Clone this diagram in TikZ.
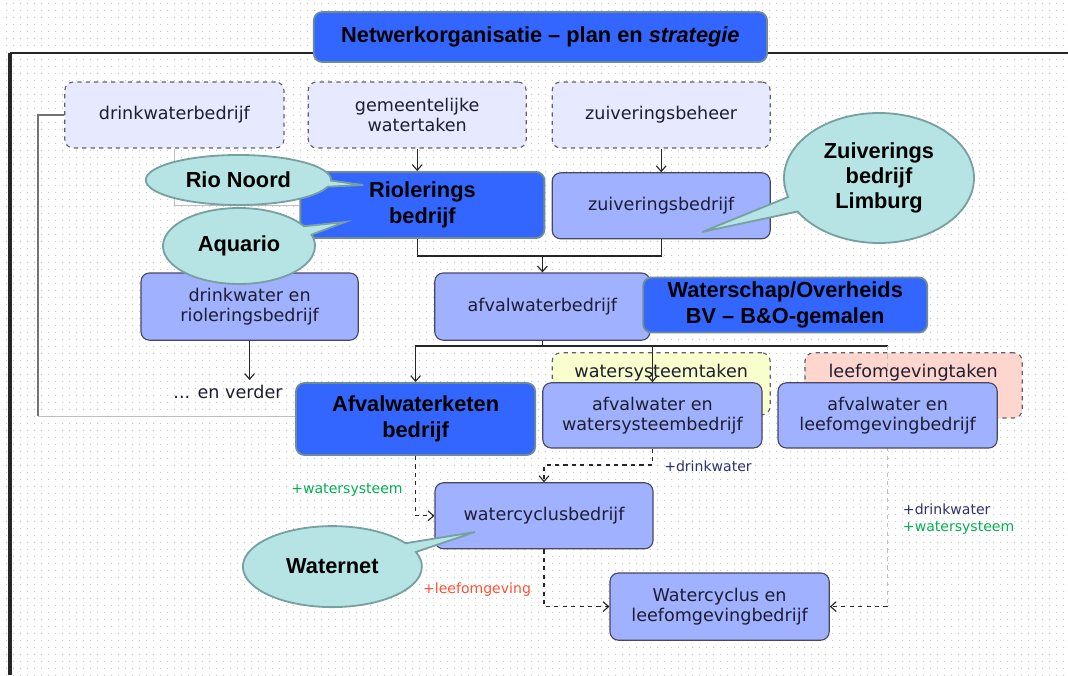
\documentclass[tikz,border=0pt]{standalone}
\usepackage{fontspec}
\setmainfont{DejaVu Sans}
\newfontfamily\headfont{Liberation Sans}
\usepackage{xcolor}
\usepackage{tikz}
\usetikzlibrary{positioning, shapes, shapes.callouts, arrows.meta, calc, patterns.meta}

\definecolor{keyblue}{RGB}{51,102,255}
\definecolor{keyedge}{RGB}{110,140,150}
\definecolor{orgfill}{RGB}{160,178,255}
\definecolor{orgedge}{RGB}{70,70,95}
\definecolor{taskfill}{RGB}{230,233,255}
\definecolor{taskedge}{RGB}{95,95,105}
\definecolor{yellowfill}{RGB}{248,255,205}
\definecolor{pinkfill}{RGB}{255,214,205}
\definecolor{bubblefill}{RGB}{182,228,228}
\definecolor{bubbleedge}{RGB}{120,160,160}
\definecolor{inkgray}{RGB}{30,30,50}
\definecolor{tagblue}{RGB}{40,50,110}
\definecolor{taggreen}{RGB}{0,176,80}
\definecolor{tagred}{RGB}{255,80,50}
\definecolor{dotgray}{RGB}{200,200,200}

\pgfdeclarelayer{back}
\pgfdeclarelayer{wires}
\pgfsetlayers{back,wires,main}

\tikzdeclarepattern{
  name=bgdots,
  type=uncolored,
  bounding box={(0,0) and (5.3pt,5.3pt)},
  tile size={(5.3pt,5.3pt)},
  code={\fill (0,0) rectangle (0.9pt,0.9pt);}
}

\begin{document}
\begin{tikzpicture}[
    every node/.style={font=\fontsize{12.5}{14.5}\selectfont, text=inkgray, align=center},
    taskbox/.style={draw=taskedge, dashed, line width=0.8pt, rounded corners=6pt, fill=taskfill, minimum width=5.45cm, minimum height=1.65cm},
    orgbox/.style={draw=orgedge, line width=0.8pt, rounded corners=6pt, fill=orgfill, minimum width=5.45cm, minimum height=1.65cm},
    keybox/.style={draw=keyedge, line width=1.3pt, rounded corners=6pt, fill=keyblue, text=black, font=\headfont\bfseries\fontsize{15.5}{18}\selectfont},
    bubble/.style={ellipse callout, callout pointer arc=14, draw=bubbleedge, line width=1.3pt, fill=bubblefill, inner sep=0pt, text=black, font=\headfont\bfseries\fontsize{15.5}{18}\selectfont},
    link/.style={draw=black!85, line width=0.8pt},
    conn/.style={link, -{Straight Barb[length=4pt, width=7pt]}},
    dconn/.style={conn, dashed},
    faint/.style={draw=black!25, line width=0.6pt},
    tag/.style={font=\fontsize{10}{12}\selectfont}
  ]
  \useasboundingbox (0,0) rectangle (26.7,16.875);

  \begin{pgfonlayer}{back}
    % Dotted sheet and frame
    \fill[pattern=bgdots, pattern color=dotgray] (0,0) rectangle (26.7,16.875);
    \draw[black!85, line width=1.4pt] (0.25,15.55) -- (26.7,15.55);
    \draw[black!85, line width=2.2pt] (0.25,0) -- (0.25,15.55);

    % Tasks (dashed)
    \node[taskbox, minimum width=5.48cm] (drinkw) at (4.36, 14.0) {drinkwaterbedrijf};
    \node[taskbox] (gemeente) at (10.43, 14.0) {gemeentelijke\\watertaken};
    \node[taskbox] (zuivbeh) at (16.53, 14.0) {zuiveringsbeheer};
    \node[taskbox, fill=yellowfill, minimum height=1.55cm] (wstaken) at (16.53, 7.28) {};
    \node (wstakentxt) at (16.53, 7.55) {watersysteemtaken};
    \node[taskbox, fill=pinkfill, minimum width=5.43cm, minimum height=1.63cm] (lotaken) at (22.84, 7.24) {};
    \node (lotakentxt) at (22.83, 7.55) {leefomgevingtaken};
  \end{pgfonlayer}

  % Title
  \node[keybox, minimum width=11.33cm, minimum height=1.25cm] (title) at (13.51, 15.95) {Netwerkorganisatie – plan en \textit{strategie}};

  % Second row
  \node[keybox, minimum width=6.1cm, minimum height=1.65cm] (riool) at (10.56, 11.75) {Riolerings\\bedrijf};
  \node[orgbox] (zuivbedr) at (16.53, 11.73) {zuiveringsbedrijf};

  % Third row
  \node[orgbox, minimum width=5.43cm, minimum height=1.68cm] (drinkriool) at (6.24, 9.21) {drinkwater en\\rioleringsbedrijf};
  \node[orgbox, minimum width=5.38cm, minimum height=1.68cm] (afvalw) at (13.56, 9.21) {afvalwaterbedrijf};
  \node[keybox, minimum width=7.1cm, minimum height=1.35cm] (wschap) at (19.63, 9.25) {Waterschap/Overheids\\BV – B\&O-gemalen};

  % Fourth row
  \node (verder) at (5.7, 7.08) {... en verder};
  \node[keybox, minimum width=5.98cm, minimum height=1.8cm] (ketenb) at (10.39, 6.4) {Afvalwaterketen\\bedrijf};
  \node[orgbox, minimum width=5.48cm, minimum height=1.63cm] (awws) at (16.31, 6.49) {afvalwater en\\watersysteembedrijf};
  \node[orgbox, minimum width=5.48cm, minimum height=1.63cm] (awleef) at (22.19, 6.49) {afvalwater en\\leefomgevingbedrijf};

  % Bottom rows
  \node[orgbox] (wcb) at (13.6, 3.98) {watercyclusbedrijf};
  \node[orgbox, minimum width=5.48cm, minimum height=1.68cm] (wcleef) at (17.99, 1.71) {Watercyclus en\\leefomgevingbedrijf};

  % Junctions
  \coordinate (j1) at (13.56, 10.475);
  \coordinate (j2) at (13.56, 8.225);
  \coordinate (j3) at (13.6, 5.25);
  \coordinate (leftc) at (0.95, 6.475);

  \begin{pgfonlayer}{wires}
    % Solid links
    \draw[conn] (gemeente.south) -- (gemeente.south |- riool.north);
    \draw[conn] (zuivbeh.south) -- (zuivbedr.north);
    \draw[link] (gemeente.south |- riool.south) |- (j1) -| (zuivbedr.south);
    \draw[conn] (j1) -- (afvalw.north);
    \draw[link] (afvalw.south) -- (j2);
    \draw[conn] (j2) -| (ketenb.north);
    \draw[conn] (j2) -| (awws.north);
    \draw[link] (j2) -- (j2 -| awleef.north);
    \draw[conn] (drinkriool.south) -- (drinkriool.south |- verder.north);

    % Grey links on the left
    \draw[draw=black!55, line width=1.3pt] (drinkw.west) -| (leftc);
    \draw[faint] (leftc) -- (leftc -| ketenb.west);
    \draw[faint] (drinkw.south) |- (riool.west);

    % Dashed links
    \draw[dconn] (awws.south) |- (j3) -- (wcb.north);
    \draw[dconn] (ketenb.south) |- (wcb.west);
    \draw[dconn] (wcb.south) |- (wcleef.west);
    \draw[faint, dashed] (j2 -| awleef.north) -- (awleef.center |- wcleef.east);
    \draw[dconn] (awleef.center |- wcleef.east) -- (wcleef.east);
  \end{pgfonlayer}

  % Tags
  \node[tag, text=taggreen] (tagws) at (8.675, 4.625) {+watersysteem};
  \node[tag, text=tagblue] (tagdw) at (17.7, 5.225) {+drinkwater};
  \node[tag, text=tagred] (taglo) at (11.925, 2.125) {+leefomgeving};
  \node[tag, anchor=west, align=left] (tagright) at (22.45, 3.9) {\textcolor{tagblue}{+drinkwater}\\\textcolor{taggreen}{+watersysteem}};

  % Callouts
  \node[bubble, minimum width=4.63cm, minimum height=1.25cm, callout absolute pointer={(9.075,12.25)}] (rionoord) at (5.96, 12.375) {Rio Noord};
  \node[bubble, minimum width=3.8cm, minimum height=1.9cm, callout absolute pointer={(8.625,11.325)}] (aquario) at (5.975, 10.725) {Aquario};
  \node[bubble, minimum width=4.75cm, minimum height=3.25cm, callout absolute pointer={(17.55,11.075)}] (zuivlimb) at (21.975, 12.425) {Zuiverings\\bedrijf\\Limburg};
  \node[bubble, minimum width=4.475cm, minimum height=2.025cm, callout absolute pointer={(11.875,3.575)}] (waternet) at (8.31, 2.71) {Waternet};
\end{tikzpicture}
\end{document}
